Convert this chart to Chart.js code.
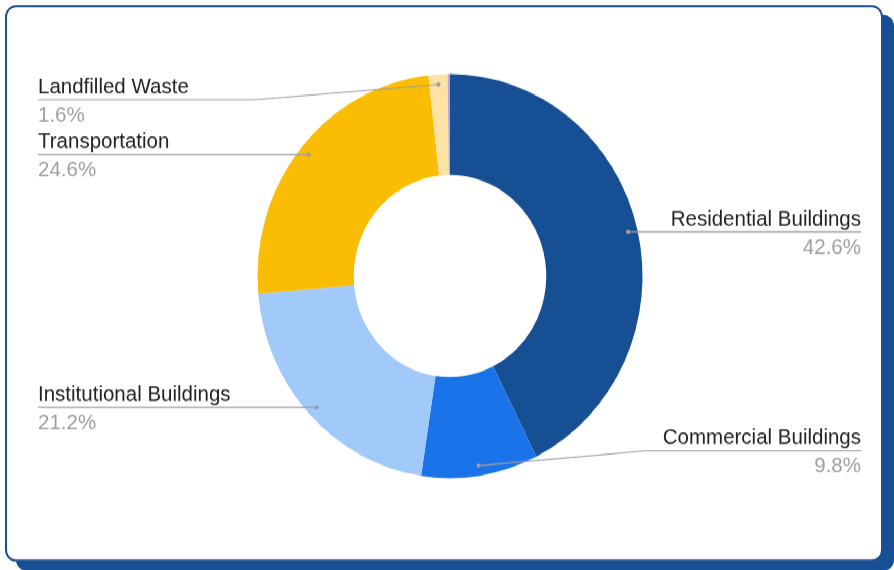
<!DOCTYPE html>
<html>
<head>
<meta charset="utf-8">
<title>Emissions by source</title>
<script src="https://cdn.jsdelivr.net/npm/chart.js@4.4.1/dist/chart.umd.min.js"></script>
<style>
  html { margin: 0; padding: 0; overflow: hidden; background: #fff; }
  body { margin: 0; padding: 0; width: 894px; height: 570px; background: #fff; }
  /* the drawing is laid out at 894x543 and stretched a little in height */
  #stage { position: relative; width: 894px; height: 543px; transform-origin: 0 0; transform: scaleY(1.0497); }
  #card {
    position: absolute; left: 5px; top: 5px; width: 874px; height: 526px;
    border: 2px solid #1b4f92; border-radius: 11px; background: #fff;
    box-shadow: 11px 9px 0 #164f94;
  }
  #pie { position: absolute; left: 0; top: 0; }
</style>
</head>
<body>
<div id="stage">
  <div id="card"></div>
  <canvas id="pie" width="894" height="543"></canvas>
</div>

<script>
var categories = ["Residential Buildings", "Commercial Buildings", "Institutional Buildings", "Transportation", "Landfilled Waste", "Other"];
var shares = [42.6, 9.8, 21.2, 24.6, 1.6, 0.2];
var sliceColors = ["#174f95", "#1a73e8", "#a1c9fa", "#fbbc04", "#fee2a3", "#c6a5d6"];

var labelFont = '20.5px "Liberation Sans", Arial, sans-serif';

// callout labels: dot in the slice, leader line, name above the line, percent below
var calloutLabels = {
  id: "calloutLabels",
  afterDatasetsDraw: function(chart) {
    var ctx = chart.ctx;
    var area = chart.chartArea;
    var meta = chart.getDatasetMeta(0);
    var data = chart.data.datasets[0].data;
    var total = data.reduce(function(a, b) { return a + b; }, 0);

    ctx.save();
    ctx.font = labelFont;
    ctx.textBaseline = "alphabetic";

    for (var i = 0; i < meta.data.length; i++) {
      var pct = data[i] / total * 100;
      if (pct < 0.5) continue; // too thin to label

      var p = meta.data[i].getProps(["x", "y", "startAngle", "endAngle", "innerRadius", "outerRadius"], true);
      var mid = (p.startAngle + p.endAngle) / 2;
      var r = p.innerRadius + (p.outerRadius - p.innerRadius) * 0.9;
      var dotX = p.x + Math.cos(mid) * r;
      var dotY = p.y + Math.sin(mid) * r;
      var right = Math.cos(mid) > 0;

      var lineY = Math.min(Math.max(dotY, area.top + 24.5), area.bottom - 26);
      var elbowX = right ? p.x + p.outerRadius + 3 : p.x - p.outerRadius - 3;
      var textX = right ? chart.width - 33 : 38;

      ctx.strokeStyle = "#9e9e9e";
      ctx.lineWidth = 1.2;
      ctx.beginPath();
      ctx.moveTo(textX, lineY);
      ctx.lineTo(elbowX, lineY);
      ctx.lineTo(dotX, dotY);
      ctx.stroke();

      ctx.fillStyle = "#9e9e9e";
      ctx.beginPath();
      ctx.arc(dotX, dotY, 2, 0, Math.PI * 2);
      ctx.fill();

      ctx.textAlign = right ? "right" : "left";
      ctx.fillStyle = "#222222";
      ctx.fillText(chart.data.labels[i], textX, lineY - 6.2);
      ctx.fillStyle = "#9e9e9e";
      ctx.fillText(pct.toFixed(1) + "%", textX, lineY + 20.8);
    }
    ctx.restore();
  }
};

function drawPie() {
  var ctx = document.getElementById("pie").getContext("2d");
  var chart = new Chart(ctx, {
    type: "doughnut",
    data: {
      labels: categories,
      datasets: [{
        data: shares,
        backgroundColor: sliceColors,
        borderWidth: 0,
        offset: 0,
        hoverOffset: 0
      }]
    },
    options: {
      responsive: false,
      devicePixelRatio: 1,
      animation: false,
      events: [],
      cutout: "50%",
      layout: { padding: { top: 70.5, bottom: 87.5, left: 100, right: 94 } },
      plugins: {
        legend: { display: false },
        tooltip: { enabled: false }
      }
    },
    plugins: [calloutLabels]
  });
}

drawPie();
</script>
</body>
</html>
